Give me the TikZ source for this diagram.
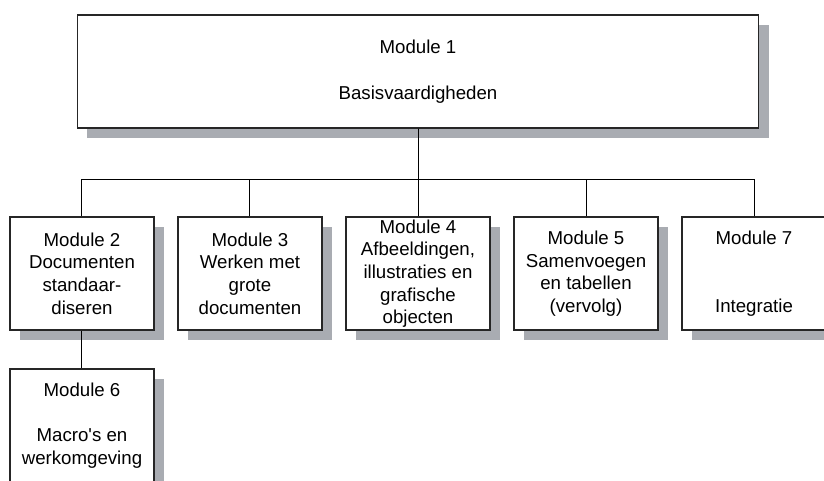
\documentclass[tikz,border=0pt]{standalone}
\usepackage{fontspec}
\setmainfont{Liberation Sans}
\usetikzlibrary{trees, shadows}

\definecolor{shadowgray}{RGB}{169,172,178}

\begin{document}
\begin{tikzpicture}[
    level 1/.style={sibling distance=126pt, level distance=151.5pt},
    level 2/.style={level distance=114pt},
    edge from parent/.style={draw=none},
    every node/.style={rectangle, draw=black!85, line width=0.9pt, fill=white, align=center,
      inner sep=0pt, minimum width=108pt, minimum height=84.75pt,
      font=\fontsize{14}{17}\selectfont,
      drop shadow={shadow xshift=7.5pt, shadow yshift=-7.5pt, fill=shadowgray, opacity=1}},
    topbox/.style={minimum width=510.75pt}
]
\useasboundingbox (-313.5pt,53.625pt) rectangle (304.5pt,-306.375pt);

\node (m1) [topbox] {Module 1\\[17pt]Basisvaardigheden}
  child { node (m2) {Module 2\\Documenten\\standaar-\\diseren}
    child {node (m6) {Module 6\\[17pt]Macro\textquotesingle s en\\werkomgeving}}
  }
  child {node (m3) {Module 3\\Werken met\\grote\\documenten}}
  child {node (m4) {Module 4\\Afbeeldingen,\\illustraties en\\grafische\\objecten}}
  child {node (m5) {Module 5\\Samenvoegen\\en tabellen\\(vervolg)}}
  child {node (m7) {Module 7\\[34pt]Integratie}};

% Connectors over the shadows
\draw[line width=0.75pt] (m1.south) -- ++(0,-38.25pt) -| (m2.north);
\draw[line width=0.75pt] (m1.south) -- ++(0,-38.25pt) -| (m3.north);
\draw[line width=0.75pt] (m1.south) -- (m4.north);
\draw[line width=0.75pt] (m1.south) -- ++(0,-38.25pt) -| (m5.north);
\draw[line width=0.75pt] (m1.south) -- ++(0,-38.25pt) -| (m7.north);
\draw[line width=0.75pt] (m2.south) -- (m6.north);

\end{tikzpicture}
\end{document}
